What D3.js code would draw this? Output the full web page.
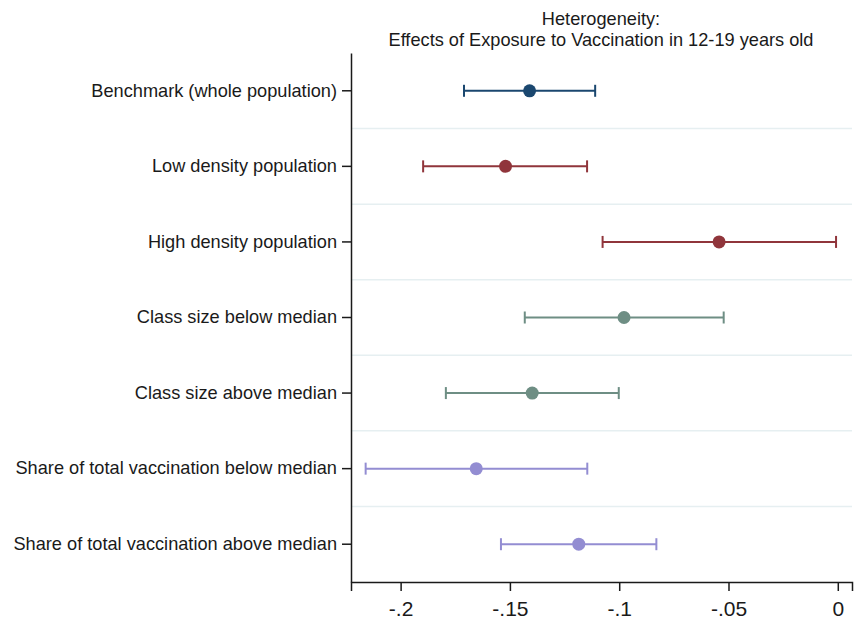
<!DOCTYPE html>
<html>
<head>
<meta charset="utf-8">
<script src="https://cdn.jsdelivr.net/npm/d3@7"></script>
<style>
  body { margin: 0; background: #fff; }
  text { font-family: "Liberation Sans", Arial, sans-serif; fill: #1a1a1a; }
</style>
</head>
<body>
<div id="grafico"></div>
<script>
// Datos
const categorias = [
    "Benchmark (whole population)",
    "Low density population",
    "High density population",
    "Class size below median",
    "Class size above median",
    "Share of total vaccination below median",
    "Share of total vaccination above median"
];
const estimaciones = [-0.141, -0.152, -0.0543, -0.0978, -0.1398, -0.1654, -0.1185];
const limiteInferior = [-0.171, -0.1897, -0.1076, -0.1432, -0.1793, -0.216, -0.1541];
const limiteSuperior = [-0.111, -0.1147, -0.0008, -0.0522, -0.1002, -0.1146, -0.083];
const colores = ["#1a476f", "#90353b", "#90353b", "#6e8e84", "#6e8e84", "#938dd2", "#938dd2"];
const ticksX = [-0.2, -0.15, -0.1, -0.05, 0];
const etiquetasX = ["-.2", "-.15", "-.1", "-.05", "0"];
const titulo = ["Heterogeneity:", "Effects of Exposure to Vaccination in 12-19 years old"];

const ancho = 854, alto = 619;
const izq = 351, der = 852, arriba = 53, abajo = 582;

const $svg = d3.select("#grafico")
    .append("svg")
    .attr("width", ancho)
    .attr("height", alto);

const x = d3.scaleLinear()
    .domain([-0.2227, 0.0065])
    .range([izq, der]);

const y = d3.scaleBand()
    .domain(categorias)
    .range([arriba, abajo]);

const centro = c => y(c) + y.bandwidth() / 2;

// Líneas separadoras entre filas
$svg.append("g")
    .selectAll("line")
    .data(categorias.slice(1))
    .join("line")
    .attr("x1", izq + 1)
    .attr("x2", der)
    .attr("y1", c => y(c))
    .attr("y2", c => y(c))
    .attr("stroke", "#e6eff1")
    .attr("stroke-width", 1.5);

// Eje X
const ejeX = $svg.append("g")
    .attr("transform", `translate(0,${abajo})`)
    .call(d3.axisBottom(x)
        .tickValues(ticksX)
        .tickFormat((d, i) => etiquetasX[i])
        .tickSize(9)
        .tickPadding(10));
ejeX.select(".domain").attr("stroke", "#1a1a1a").attr("stroke-width", 1.5);
ejeX.selectAll(".tick line").attr("stroke", "#1a1a1a").attr("stroke-width", 1.5);
ejeX.selectAll(".tick text")
    .attr("font-size", 21)
    .attr("font-family", "Liberation Sans, Arial, sans-serif")
    .attr("fill", "#1a1a1a");

// Eje Y
const ejeY = $svg.append("g")
    .attr("transform", `translate(${izq},0)`)
    .call(d3.axisLeft(y)
        .tickSize(9)
        .tickPadding(5)
        .tickSizeOuter(0));
ejeY.select(".domain").attr("stroke", "#1a1a1a").attr("stroke-width", 1.5);
ejeY.selectAll(".tick line").attr("stroke", "#1a1a1a").attr("stroke-width", 1.5);
ejeY.selectAll(".tick text")
    .attr("font-size", 18.2)
    .attr("font-family", "Liberation Sans, Arial, sans-serif")
    .attr("fill", "#1a1a1a");

// Intervalos de confianza
const filas = categorias.map((c, i) => ({
    c, est: estimaciones[i], lo: limiteInferior[i], hi: limiteSuperior[i], color: colores[i]
}));

const grupos = $svg.append("g")
    .selectAll("g")
    .data(filas)
    .join("g");

grupos.append("line")
    .attr("x1", d => x(d.lo))
    .attr("x2", d => x(d.hi))
    .attr("y1", d => centro(d.c))
    .attr("y2", d => centro(d.c))
    .attr("stroke", d => d.color)
    .attr("stroke-width", 2);

[d => d.lo, d => d.hi].forEach(f => {
    grupos.append("line")
        .attr("x1", d => x(f(d)))
        .attr("x2", d => x(f(d)))
        .attr("y1", d => centro(d.c) - 6)
        .attr("y2", d => centro(d.c) + 6)
        .attr("stroke", d => d.color)
        .attr("stroke-width", 2);
});

grupos.append("circle")
    .attr("cx", d => x(d.est))
    .attr("cy", d => centro(d.c))
    .attr("r", 6.5)
    .attr("fill", d => d.color);

// Título
$svg.append("text")
    .attr("x", 601)
    .attr("text-anchor", "middle")
    .attr("font-size", 18.2)
    .selectAll("tspan")
    .data(titulo)
    .join("tspan")
    .attr("x", 601)
    .attr("y", (d, i) => 25 + i * 21)
    .text(d => d);
</script>
</body>
</html>
